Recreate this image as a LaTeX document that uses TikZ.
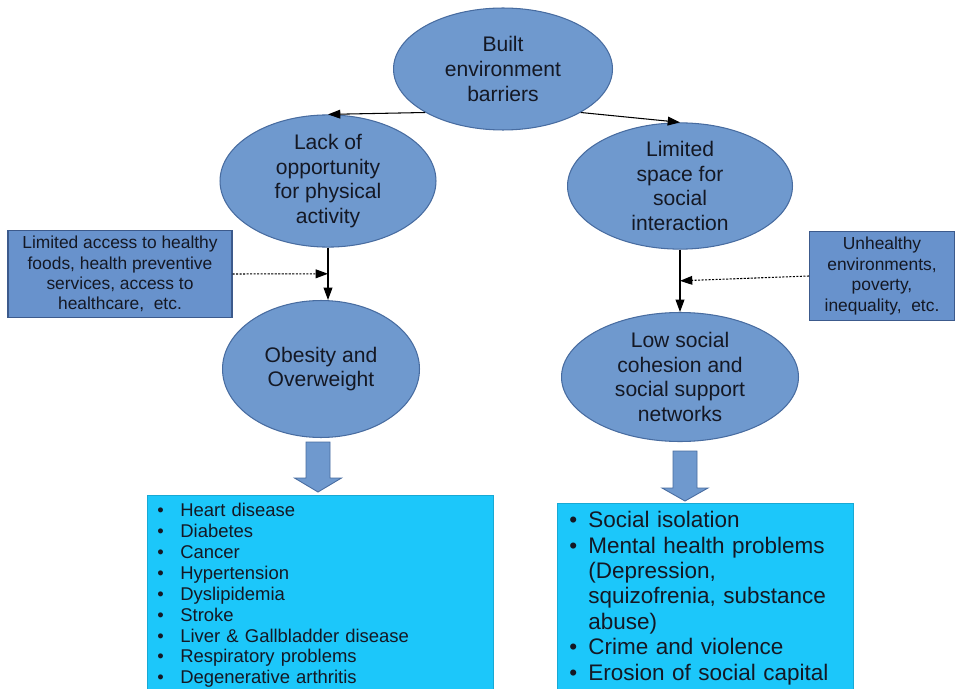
\documentclass[tikz,border=0pt]{standalone}
\usepackage{fontspec}
\setmainfont{Liberation Sans}
\usepackage{xcolor}
\usepackage{tikz}
\usetikzlibrary{shapes.geometric, arrows.meta, positioning, calc}

\definecolor{ellblue}{RGB}{111,153,206}
\definecolor{ellline}{RGB}{72,108,160}
\definecolor{boxblue}{RGB}{104,146,204}
\definecolor{boxline}{RGB}{60,90,140}
\definecolor{listcyan}{RGB}{28,199,250}
\definecolor{ink}{RGB}{20,24,36}

\newcommand{\listbullet}[1]{\makebox[#1][l]{\textbullet}}

\begin{document}
\begin{tikzpicture}[
    x=0.02cm, y=-0.02cm,
    cause/.style={ellipse, draw=ellline, fill=ellblue, line width=0.6pt, inner sep=0pt, align=center, text=ink, font=\fontsize{12}{14}\selectfont},
    factor/.style={rectangle, draw=boxline, fill=boxblue, line width=0.6pt, minimum height=1.72cm, align=center, text=ink, font=\fontsize{9.9}{11.6}\selectfont},
    effects/.style={rectangle, fill=listcyan, draw=listcyan!85!black, line width=0.4pt, anchor=north west, align=left, text=ink, inner ysep=4.5pt},
    line/.style={-{Triangle[length=7pt,width=5pt]}, line width=0.6pt, black},
    optline/.style={-{Triangle[length=7pt,width=5pt]}, line width=0.6pt, black, dash pattern=on 1.2pt off 0.8pt},
    bigarrow/.style={draw=ellline, fill=ellblue, line width=0.5pt}
]
    \clip (0,0) rectangle (956,689);
    % Layout
    \node[cause, minimum width=4.38cm, minimum height=2.44cm] (Built) at (503,69) {Built\\environment\\barriers};
    \node[cause, minimum width=4.32cm, minimum height=2.4cm] (Lack) at (328,181) {Lack of\\opportunity\\for physical\\activity};
    \node[cause, minimum width=4.5cm, minimum height=2.46cm] (Space) at (680,186) {Limited\\space for\\social\\interaction};
    \node[cause, minimum width=3.94cm, minimum height=2.74cm] (Obese) at (321,369) {Obesity and\\Overweight};
    \node[cause, minimum width=4.74cm, minimum height=2.58cm] (Cohesion) at (680,377) {Low social\\cohesion and\\social support\\networks};
    \node[factor, minimum width=4.48cm] (Access) at (120,274) {Limited access to healthy\\foods, health preventive\\services, access to\\healthcare,\ \ etc.};
    \node[factor, minimum width=2.9cm] (Poverty) at (882,276) {Unhealthy\\environments,\\poverty,\\inequality,\ \ etc.};

    % Effect lists
    \node[effects, inner xsep=0.2cm, text width=6.52cm, font=\fontsize{10.5}{11.9}\selectfont] (Disease) at (147,495)
        {\listbullet{0.46cm}Heart disease\\\listbullet{0.46cm}Diabetes\\\listbullet{0.46cm}Cancer\\\listbullet{0.46cm}Hypertension\\\listbullet{0.46cm}Dyslipidemia\\\listbullet{0.46cm}Stroke\\\listbullet{0.46cm}Liver \& Gallbladder disease\\\listbullet{0.46cm}Respiratory problems\\\listbullet{0.46cm}Degenerative arthritis};
    \node[effects, inner xsep=0.24cm, text width=5.44cm, font=\fontsize{12.8}{14.5}\selectfont] (Social) at (557,503)
        {\listbullet{0.38cm}Social isolation\\\listbullet{0.38cm}Mental health problems\\\makebox[0.38cm]{}(Depression,\\\makebox[0.38cm]{}squizofrenia, substance\\\makebox[0.38cm]{}abuse)\\\listbullet{0.38cm}Crime and violence\\\listbullet{0.38cm}Erosion of social capital};

    % Arrows
    \draw[line] (Built.south west) -- (Lack.north);
    \draw[line] (Built.south east) -- (Space.north);
    \draw[line] (Lack.south) -- (Lack.south |- Obese.north);
    \draw[line] (Space.south) -- (Cohesion.north);
    \coordinate (LackMid) at ($(Lack.south)!0.5!(Lack.south |- Obese.north)$);
    \coordinate (SpaceMid) at ($(Space.south)!0.5!(Cohesion.north)$);
    \draw[optline] (Access.east) -- (LackMid);
    \draw[optline] (Poverty.west) -- (SpaceMid);

    % Block arrows
    \coordinate (ObeseTail) at (318,442);
    \coordinate (CohesionTail) at (685,451);
    \draw[bigarrow] (ObeseTail) ++(-12,0) -- ++(0,36) -- ++(-11.5,0) -- ++(23.5,14) -- ++(23.5,-14) -- ++(-11.5,0) -- ++(0,-36) -- cycle;
    \draw[bigarrow] (CohesionTail) ++(-12,0) -- ++(0,37) -- ++(-11,0) -- ++(23,13) -- ++(23,-13) -- ++(-11,0) -- ++(0,-37) -- cycle;
\end{tikzpicture}
\end{document}
